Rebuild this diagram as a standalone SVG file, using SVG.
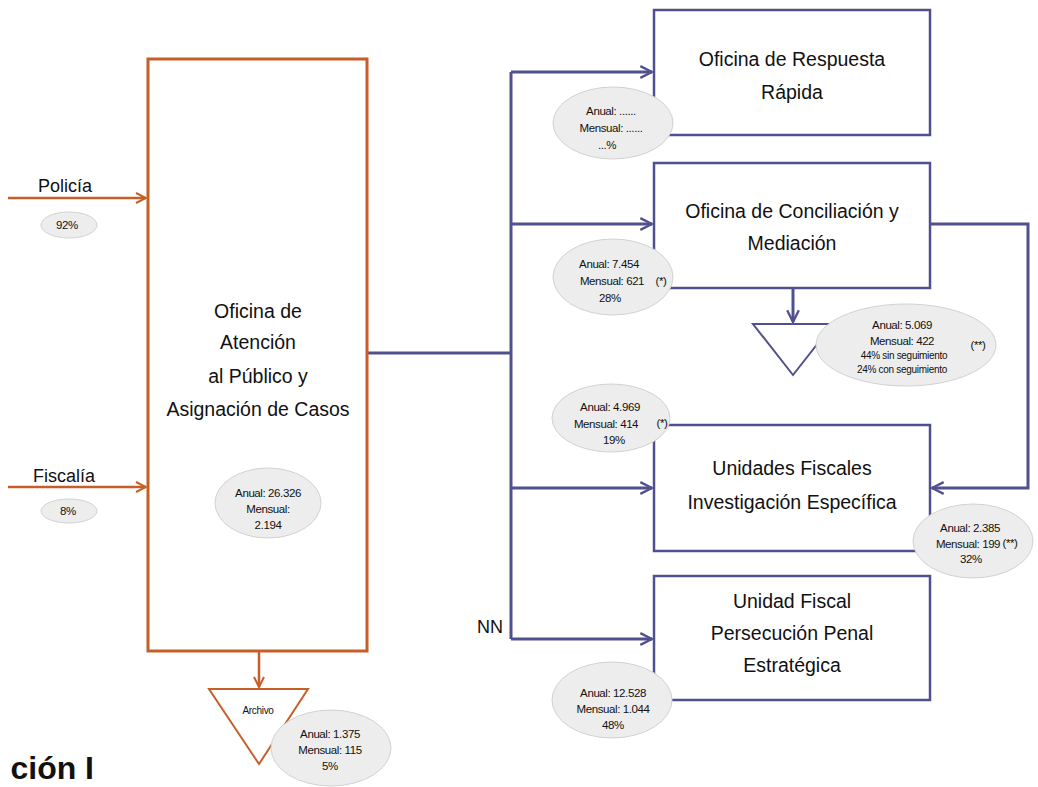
<svg xmlns="http://www.w3.org/2000/svg" width="1038" height="787" viewBox="0 0 1038 787">
<defs>
<style>
.ob{fill:#fff;stroke:#C65F27;stroke-width:3}
.bb{fill:#fff;stroke:#51508E;stroke-width:2.5}
.ol{fill:none;stroke:#C65F27;stroke-width:2.5}
.bl{fill:none;stroke:#51508E;stroke-width:3}
.tri-o{fill:#fff;stroke:#C65F27;stroke-width:2}
.tri-b{fill:#fff;stroke:#51508E;stroke-width:2}
.el{fill:#EDEDED;stroke:#D2D2D2;stroke-width:1}
.lab{font-family:"Liberation Sans",Arial,sans-serif;font-size:19.5px;fill:#111;text-anchor:middle}
.in{font-family:"Liberation Sans",Arial,sans-serif;font-size:18px;fill:#111}
.st{font-family:"Liberation Sans",Arial,sans-serif;font-size:11.5px;fill:#111;text-anchor:middle;letter-spacing:-0.4px}
.sm{font-family:"Liberation Sans",Arial,sans-serif;font-size:10px;fill:#111;text-anchor:middle;letter-spacing:-0.3px}
.big{font-family:"Liberation Sans",Arial,sans-serif;font-size:32px;font-weight:bold;fill:#111}
</style>
<marker id="ao" viewBox="0 0 12 12" refX="11" refY="6" markerWidth="12" markerHeight="12" markerUnits="userSpaceOnUse" orient="auto">
<path d="M1,1 L11,6 L1,11" fill="none" stroke="#C65F27" stroke-width="2"/>
</marker>
<marker id="ab" viewBox="0 0 12 12" refX="11" refY="6" markerWidth="14" markerHeight="14" markerUnits="userSpaceOnUse" orient="auto">
<path d="M1,1 L11,6 L1,11" fill="none" stroke="#51508E" stroke-width="2"/>
</marker>
</defs>

<g id="connectors">
<line class="ol" x1="8" y1="198" x2="146" y2="198" marker-end="url(#ao)"/>
<line class="ol" x1="8" y1="487" x2="146" y2="487" marker-end="url(#ao)"/>
<line class="ol" x1="259" y1="651" x2="259" y2="687" stroke-width="1.5" marker-end="url(#ao)"/>
<polyline class="bl" points="367,353 511,353"/>
<polyline class="bl" points="511,72 511,639"/>
<line class="bl" x1="511" y1="72" x2="652" y2="72" marker-end="url(#ab)"/>
<line class="bl" x1="511" y1="224" x2="652" y2="224" marker-end="url(#ab)"/>
<line class="bl" x1="511" y1="488" x2="652" y2="488" marker-end="url(#ab)"/>
<line class="bl" x1="511" y1="639" x2="652" y2="639" marker-end="url(#ab)"/>
<polyline class="bl" points="930,224 1028,224 1028,488 932,488" marker-end="url(#ab)"/>
<line class="bl" x1="793" y1="288" x2="793" y2="322" stroke-width="1.5" marker-end="url(#ab)"/>
</g>

<g id="policia">
<text class="in" x="38" y="192">Policía</text>
<ellipse class="el" cx="69" cy="225" rx="28" ry="13"/>
<text class="st" x="67" y="229">92%</text>
</g>

<g id="fiscalia">
<text class="in" x="33" y="482">Fiscalía</text>
<ellipse class="el" cx="69" cy="511" rx="28" ry="12"/>
<text class="st" x="68" y="515">8%</text>
</g>

<g id="oficina-atencion">
<rect class="ob" x="148" y="59" width="219" height="592"/>
<text class="lab" x="258" y="318">Oficina de</text>
<text class="lab" x="258" y="349">Atención</text>
<text class="lab" x="258" y="383">al Público y</text>
<text class="lab" x="258" y="416">Asignación de Casos</text>
<ellipse class="el" cx="268" cy="503" rx="53" ry="35"/>
<text class="st" x="268" y="497">Anual: 26.326</text>
<text class="st" x="268" y="513">Mensual:</text>
<text class="st" x="268" y="529">2.194</text>
</g>

<g id="archivo">
<polygon class="tri-o" points="209,689 308,689 259,764"/>
<text class="sm" x="258" y="714" font-size="9">Archivo</text>
<ellipse class="el" cx="331" cy="748" rx="60" ry="38"/>
<text class="st" x="330" y="738">Anual: 1.375</text>
<text class="st" x="330" y="754">Mensual: 115</text>
<text class="st" x="330" y="770">5%</text>
</g>

<g id="respuesta-rapida">
<rect class="bb" x="654" y="10" width="276" height="125"/>
<text class="lab" x="792" y="66">Oficina de Respuesta</text>
<text class="lab" x="792" y="99">Rápida</text>
<ellipse class="el" cx="613" cy="123" rx="60" ry="36"/>
<text class="st" x="611" y="115">Anual: ......</text>
<text class="st" x="611" y="132">Mensual: ......</text>
<text class="st" x="607" y="149">...%</text>
</g>

<g id="conciliacion">
<rect class="bb" x="654" y="163" width="276" height="125"/>
<text class="lab" x="792" y="218">Oficina de Conciliación y</text>
<text class="lab" x="792" y="250">Mediación</text>
<ellipse class="el" cx="613" cy="277" rx="60" ry="38"/>
<text class="st" x="609" y="268">Anual: 7.454</text>
<text class="st" x="612" y="285">Mensual: 621</text>
<text class="st" x="661" y="285">(*)</text>
<text class="st" x="610" y="302">28%</text>
</g>

<g id="mediacion-salida">
<polygon class="tri-b" points="753,324 833,324 793,375"/>
<ellipse class="el" cx="906" cy="345" rx="90" ry="41"/>
<text class="st" x="902" y="329">Anual: 5.069</text>
<text class="st" x="902" y="345">Mensual: 422</text>
<text class="st" x="978" y="349">(**)</text>
<text class="sm" x="904" y="359">44% sin seguimiento</text>
<text class="sm" x="902" y="373">24% con seguimiento</text>
</g>

<g id="unidades-fiscales">
<rect class="bb" x="654" y="425" width="276" height="126"/>
<text class="lab" x="792" y="475">Unidades Fiscales</text>
<text class="lab" x="792" y="509">Investigación Específica</text>
<ellipse class="el" cx="611" cy="418" rx="59" ry="34"/>
<text class="st" x="610" y="411">Anual: 4.969</text>
<text class="st" x="606" y="428">Mensual: 414</text>
<text class="st" x="662" y="427">(*)</text>
<text class="st" x="614" y="444">19%</text>
<ellipse class="el" cx="973" cy="541" rx="60" ry="37"/>
<text class="st" x="970" y="532">Anual: 2.385</text>
<text class="st" x="968" y="548">Mensual: 199</text>
<text class="st" x="1010" y="547">(**)</text>
<text class="st" x="971" y="563">32%</text>
</g>

<g id="persecucion-penal">
<text class="in" x="477" y="633">NN</text>
<rect class="bb" x="654" y="576" width="276" height="124"/>
<text class="lab" x="792" y="608">Unidad Fiscal</text>
<text class="lab" x="792" y="640">Persecución Penal</text>
<text class="lab" x="792" y="672">Estratégica</text>
<ellipse class="el" cx="612" cy="700" rx="60" ry="38"/>
<text class="st" x="613" y="697">Anual: 12.528</text>
<text class="st" x="613" y="713">Mensual: 1.044</text>
<text class="st" x="613" y="729">48%</text>
</g>

<text class="big" x="94" y="779" text-anchor="end">ción I</text>
</svg>
